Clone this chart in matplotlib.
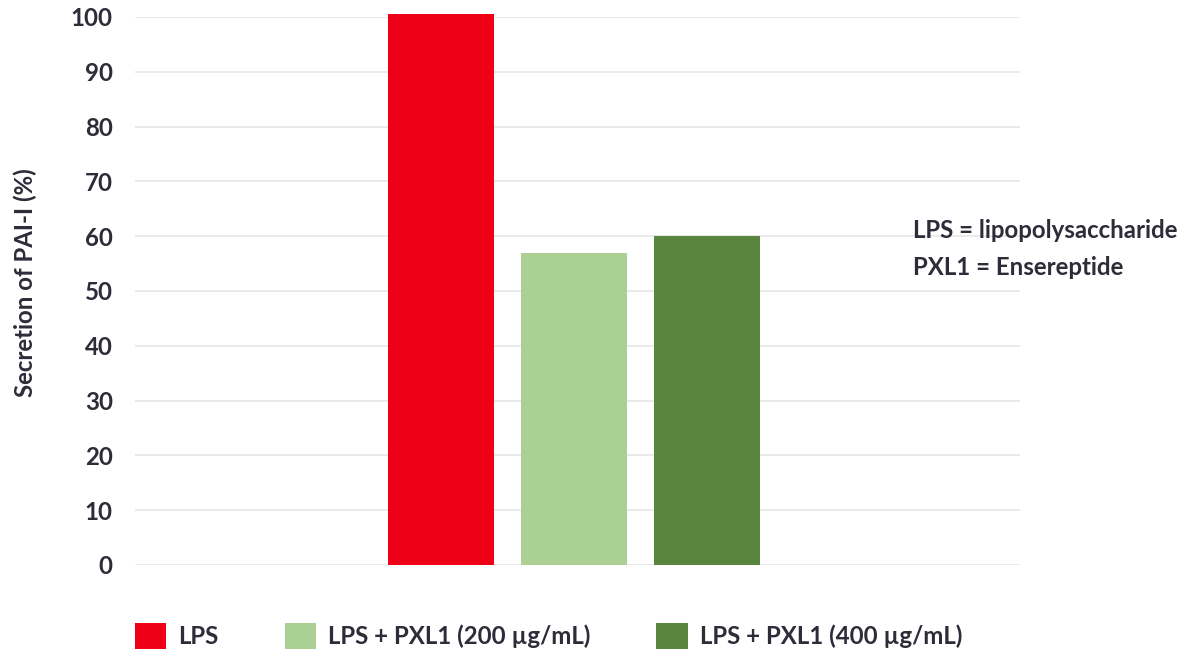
import matplotlib as mpl
mpl.use('Agg')
from matplotlib import pyplot as plt
from matplotlib import font_manager as fm

categories = ['LPS', 'LPS + PXL1 (200 µg/mL)', 'LPS + PXL1 (400 µg/mL)']
values = [100.5, 57.0, 60.1]
colors = ['#EE0016', '#ABD094', '#58843D']
y_ticks = [0, 10, 20, 30, 40, 50, 60, 70, 80, 90, 100]
note = 'LPS = lipopolysaccharide\nPXL1 = Ensereptide'

TEXT = '#2d2d3a'
FS = 17.3

# pick a Lato Bold file directly (google-fonts copy first)
bold_path = None
cands = [f.fname for f in fm.fontManager.ttflist if f.fname.endswith('Lato-Bold.ttf')]
cands.sort(key=lambda p: 'google' not in p)
if cands:
    bold_path = cands[0]


def fp(size):
    if bold_path:
        return fm.FontProperties(fname=bold_path, size=size)
    return fm.FontProperties(family='Lato', weight='bold', size=size)


fig = plt.figure(figsize=(11.89, 6.53), dpi=100)
ax = fig.add_axes([135 / 1189, 1 - 565 / 653, 885 / 1189, 548 / 653])

xs = list(range(len(categories)))
for x, v, c, lab in zip(xs, values, colors, categories):
    ax.bar(x, v, width=0.8, color=c, label=lab, zorder=3, clip_on=False)

ax.set_ylim(0, 100)
ax.set_xlim(-2.3, 4.35)
ax.set_yticks(y_ticks)
ax.set_yticklabels([str(t) for t in y_ticks], fontproperties=fp(FS), color=TEXT)
ax.tick_params(axis='y', length=0, pad=16)
ax.set_xticks([])
ax.grid(axis='y', color='#e6e6e6', linewidth=1.2, zorder=0)
for s in ax.spines.values():
    s.set_visible(False)

fig.text(25 / 1189, 1 - 283 / 653, 'Secretion of PAI-I (%)', rotation=90,
         ha='center', va='center', fontproperties=fp(FS), color=TEXT)

fig.text(913 / 1189, 1 - 249 / 653, note,
         ha='left', va='center', fontproperties=fp(FS), color=TEXT,
         linespacing=1.75)

leg = fig.legend(loc='upper left', bbox_to_anchor=(135 / 1189, 1 - 623 / 653),
                 ncol=3, frameon=False, prop=fp(FS), handlelength=1.3,
                 handleheight=1.3, handletextpad=0.5, columnspacing=2.75,
                 borderpad=0, borderaxespad=0)
for t in leg.get_texts():
    t.set_color(TEXT)

fig.savefig('out.png', dpi=100)
